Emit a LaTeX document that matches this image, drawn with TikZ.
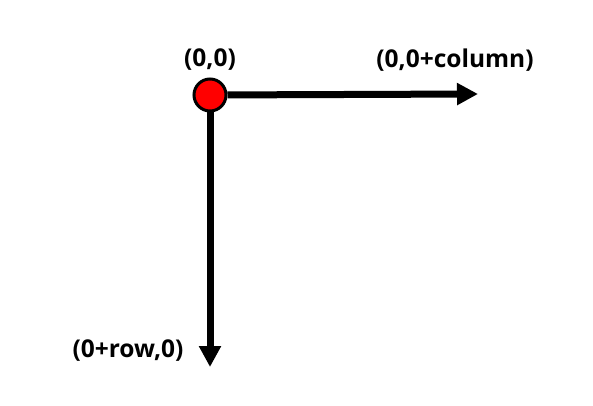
\documentclass[tikz,border=0pt]{standalone}
\usepackage{fontspec}
\setmainfont{Open Sans}
\usepackage{tikz}
\usetikzlibrary{arrows.meta}

\begin{document}
\begin{tikzpicture}[x=1pt,y=-1pt,
    axis/.style={line width=7pt,-{Triangle[length=21pt,width=21pt]}},
    lbl/.style={font=\fontsize{24.5}{28}\selectfont\bfseries}]
    \useasboundingbox (0,0) rectangle (593,406);

    % Define the end points
    \coordinate (colEnd) at (478,94);
    \coordinate (rowEnd) at (210,367);

    % Draw the origin
    \node[circle,draw,fill=red,line width=3pt,minimum size=32pt,inner sep=0pt] (origin) at (210,95) {};

    % Draw the axes
    \draw[axis] (origin) -- (colEnd);
    \draw[axis] (origin) -- (rowEnd);

    % Label points
    \node[lbl] (originLabel) at (210,60) {(0,0)};
    \node[lbl] (colLabel) at (455,60) {(0,0+column)};
    \node[lbl] (rowLabel) at (128,351) {(0+row,0)};
\end{tikzpicture}
\end{document}
